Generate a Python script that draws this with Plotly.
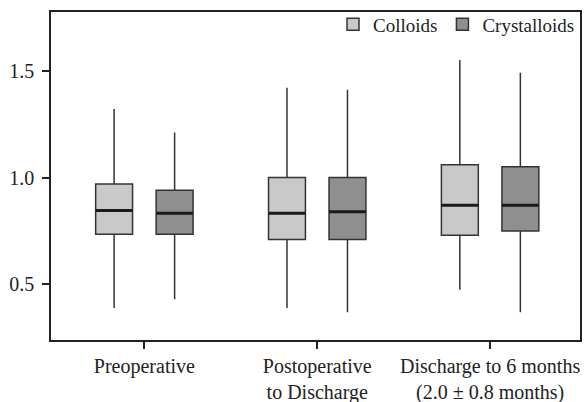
import plotly.graph_objects as go

categories = ["Preoperative", "Postoperative<br>to Discharge", "Discharge to 6 months<br>(2.0 ± 0.8 months)"]
series_names = ["Colloids", "Crystalloids"]

colloid_low = [0.39, 0.39, 0.475]
colloid_q1 = [0.735, 0.71, 0.73]
colloid_med = [0.846, 0.833, 0.87]
colloid_q3 = [0.97, 1.0, 1.06]
colloid_high = [1.32, 1.42, 1.55]

cryst_low = [0.43, 0.37, 0.37]
cryst_q1 = [0.735, 0.71, 0.75]
cryst_med = [0.833, 0.84, 0.87]
cryst_q3 = [0.94, 1.0, 1.05]
cryst_high = [1.21, 1.41, 1.49]

FONT = "Liberation Serif, Times New Roman, serif"

fig = go.Figure()
for i, (name, low, q1, med, q3, high, fill) in enumerate([
    (series_names[0], colloid_low, colloid_q1, colloid_med, colloid_q3, colloid_high, "#c9c9c9"),
    (series_names[1], cryst_low, cryst_q1, cryst_med, cryst_q3, cryst_high, "#8f8f8f"),
]):
    fig.add_trace(go.Box(
        name=name, x=categories, lowerfence=low, q1=q1, median=med, q3=q3, upperfence=high,
        fillcolor=fill, line=dict(color="#333333", width=1.5), whiskerwidth=0,
        boxpoints=False, hoverinfo="skip", offsetgroup=str(i), alignmentgroup="a",
    ))
    # thick dark median bar drawn on top of each box
    fig.add_trace(go.Box(
        name=name + " median", x=categories, lowerfence=med, q1=med, median=med, q3=med, upperfence=med,
        fillcolor="rgba(0,0,0,0)", line=dict(color="#1a1a1a", width=3), whiskerwidth=0,
        boxpoints=False, hoverinfo="skip", offsetgroup=str(i), alignmentgroup="a",
        showlegend=False,
    ))

fig.update_layout(
    width=585, height=402,
    margin=dict(l=51, r=5, t=10, b=62),
    paper_bgcolor="white", plot_bgcolor="white",
    boxmode="group", boxgap=0.3, boxgroupgap=0.39,
    font=dict(family=FONT, size=20, color="#222"),
    showlegend=True,
    legend=dict(orientation="h", x=1, xanchor="right", y=1.02, yanchor="top",
                font=dict(family=FONT, size=19), bgcolor="rgba(0,0,0,0)",
                itemwidth=30, tracegroupgap=0),
    xaxis=dict(type="category", range=[-0.54, 2.52], showline=True, linecolor="#222", linewidth=1.5,
               mirror=True, ticks="outside", ticklen=7, tickcolor="#222", tickwidth=1.5,
               showgrid=False, zeroline=False, fixedrange=True, automargin=False),
    yaxis=dict(range=[0.24, 1.774], tickvals=[0.5, 1.0, 1.5], ticktext=["0.5", "1.0", "1.5"],
               showline=True, linecolor="#222", linewidth=1.5, mirror=True,
               ticks="outside", ticklen=7, tickcolor="#222", tickwidth=1.5,
               ticklabelstandoff=4, automargin=False,
               showgrid=False, zeroline=False),
)

fig.write_html("out.html", config={"displayModeBar": False},
               post_script="document.body.style.margin='0';document.body.style.padding='0';")
